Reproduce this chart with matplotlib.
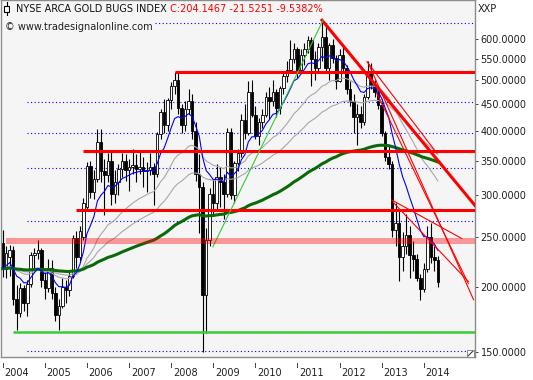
import numpy as np
import pandas as pd
import matplotlib
matplotlib.use('Agg')
import matplotlib.pyplot as plt
import matplotlib.transforms as mtransforms

# monthly candles, Jan 2004 .. May 2014
opens = [243, 217, 228, 236, 190, 178, 199, 186, 203, 230, 233, 236,
         206, 199, 218, 195, 177, 184, 200, 197, 210, 248, 228, 250,
         285, 342, 304, 322, 381, 334, 328, 350, 302, 318, 338, 350,
         336, 340, 344, 338, 340, 334, 336, 340, 330, 393, 435, 410,
         458, 487, 500, 441, 410, 440, 455, 400, 330, 312, 193, 246,
         302, 290, 325, 318, 302, 398, 300, 346, 362, 419, 396, 475,
         428, 390, 415, 428, 464, 455, 475, 441, 483, 510, 523, 550,
         575, 524, 559, 575, 597, 550, 527, 578, 605, 527, 584, 552,
         497, 560, 527, 481, 456, 425, 430, 415, 465, 520, 490, 475,
         448, 396, 355, 345, 258, 265, 228, 240, 252, 230, 226, 208,
         198, 217, 250, 228, 225.67]
highs = [258, 240, 241, 240, 202, 204, 202, 206, 234, 238, 246, 238,
         214, 226, 225, 200, 190, 208, 206, 216, 252, 256, 262, 296,
         348, 350, 336, 402, 402, 352, 362, 366, 336, 345, 362, 360,
         352, 368, 360, 366, 356, 348, 362, 346, 398, 440, 460, 462,
         495, 518, 518, 450, 455, 480, 470, 415, 360, 318, 260, 310,
         321, 345, 340, 330, 405, 405, 350, 368, 430, 450, 497, 500,
         445, 422, 440, 475, 485, 500, 480, 488, 515, 545, 597, 590,
         580, 575, 590, 609, 605, 570, 590, 652, 640, 590, 600, 560,
         575, 580, 535, 497, 470, 450, 445, 470, 543, 540, 500, 480,
         460, 400, 375, 350, 290, 280, 255, 276, 262, 245, 232, 212,
         222, 262, 265, 240, 229]
lows = [209, 208, 210, 185, 165, 175, 180, 176, 200, 218, 226, 200,
        190, 196, 190, 172, 165, 182, 186, 192, 208, 218, 224, 246,
        280, 296, 295, 318, 318, 275, 318, 287, 290, 300, 325, 320,
        306, 330, 318, 330, 312, 305, 328, 287, 326, 385, 395, 400,
        440, 470, 430, 395, 400, 430, 385, 320, 254, 150, 163, 240,
        274, 280, 285, 270, 298, 295, 290, 335, 355, 385, 392, 425,
        385, 375, 405, 424, 420, 445, 425, 430, 470, 495, 518, 540,
        505, 515, 535, 565, 488, 500, 520, 545, 515, 500, 540, 480,
        495, 520, 470, 445, 396, 375, 405, 410, 460, 480, 465, 440,
        390, 350, 338, 250, 240, 205, 215, 232, 208, 215, 205, 189,
        196, 214, 222, 215, 200]
closes = [217, 233, 236, 190, 178, 199, 186, 203, 230, 233, 236, 206,
          199, 218, 195, 177, 184, 200, 197, 210, 248, 228, 256, 290,
          342, 304, 322, 381, 334, 328, 350, 302, 318, 338, 350, 336,
          340, 344, 338, 340, 334, 336, 340, 330, 393, 435, 410, 458,
          487, 500, 441, 410, 440, 455, 400, 330, 312, 193, 246, 302,
          290, 325, 318, 302, 398, 300, 346, 362, 419, 396, 475, 428,
          390, 415, 428, 464, 455, 475, 441, 483, 510, 523, 550, 575,
          524, 559, 575, 597, 550, 527, 578, 605, 527, 584, 552, 497,
          560, 527, 481, 456, 425, 430, 415, 465, 520, 490, 475, 448,
          396, 355, 345, 258, 265, 228, 240, 252, 230, 226, 208, 198,
          217, 250, 228, 225.67, 204.1467]

years = list(range(2004, 2015))
price_ticks = [150, 200, 250, 300, 350, 400, 450, 500, 550, 600]
grid_levels = [645, 454.5, 396, 339, 268, 150.7]

# support / resistance drawn on the chart
red_levels = [(49.0, 519), (22.9, 366), (20.9, 281)]   # (start month, level)
green_level = (3.0, 164)
band = (241.5, 248.5)
# trend lines: (month, value) pairs
thick_red = [(91.0, 652), (134.6, 287)]
green_trend = [(59.9, 239), (91.3, 652)]
thin_red = [
    [(103.8, 543), (123.7, 362)],
    [(104.2, 539), (134.2, 189)],
    [(106.6, 472), (132.7, 203)],
    [(110.9, 294), (130.8, 248)],
    [(111.3, 291), (132.7, 205)],
]

df = pd.DataFrame({'o': opens, 'h': highs, 'l': lows, 'c': closes})
x = np.arange(len(df))
ema_fast = df['c'].ewm(span=10, adjust=False).mean()
ema_mid = df['c'].ewm(span=30, adjust=False).mean()
ema_slow = df['c'].ewm(span=55, adjust=False).mean()
ema_long = df['c'].ewm(span=140, adjust=False).mean()

plt.rcParams['font.family'] = 'DejaVu Sans'
fig = plt.figure(figsize=(5.33, 3.80), dpi=100, facecolor='white')
ax = fig.add_axes([1 / 533, 23 / 380, 474 / 533, 357 / 380])
ax.set_facecolor('#f5f5f5')
ax.set_yscale('log')
ax.set_ylim(146.7, 713)
ax.set_xlim(-0.48, 134.6)
xmax = 134.6

# dotted grid
for lv in grid_levels:
    ax.plot([6.9, xmax], [lv, lv], color='#0000ff', lw=0.8,
            ls=(0, (1, 2.2)), zorder=1)

# candles
up = df['c'] >= df['o']
ax.vlines(x, df['l'], df['h'], color='black', lw=0.8, zorder=2)
ax.bar(x, (df['c'] - df['o']).abs(), bottom=np.minimum(df['o'], df['c']),
       width=0.72, color=np.where(up, 'white', 'black'),
       edgecolor='black', linewidth=0.6, zorder=2)

# averages
ax.plot(x, ema_mid, color='#a8a8a8', lw=0.8, zorder=3)
ax.plot(x, ema_slow, color='#a8a8a8', lw=0.8, zorder=3)
ax.plot(x, ema_long, color='#0a6a0a', lw=2.2, zorder=3)
ax.plot(x, ema_fast, color='#0000ff', lw=0.8, zorder=3)

# levels
for start, lv in red_levels:
    ax.plot([start, xmax], [lv, lv], color='#ff0000', lw=2.2, zorder=4,
            solid_capstyle='butt')
ax.plot([green_level[0], xmax], [green_level[1]] * 2, color='#33cc33',
        lw=1.8, zorder=4, solid_capstyle='butt')
ax.fill_between([1.0, xmax], band[0], band[1], color='#ff0000',
                alpha=0.38, lw=0, zorder=5)

# trend lines
tx, ty = zip(*thick_red)
ax.plot(tx, ty, color='#ff0000', lw=2.2, zorder=4)
gx, gy = zip(*green_trend)
ax.plot(gx, gy, color='#33cc33', lw=0.8, zorder=4)
for seg in thin_red:
    sx, sy = zip(*seg)
    ax.plot(sx, sy, color='#ff0000', lw=0.8, zorder=4)

# axes styling
for sp in ax.spines.values():
    sp.set_color('#8c8c8c')
    sp.set_linewidth(1.0)
ax.yaxis.tick_right()
ax.set_yticks(price_ticks)
ax.set_yticklabels(['%.4f' % v for v in price_ticks])
ax.yaxis.set_minor_locator(matplotlib.ticker.NullLocator())
ax.tick_params(axis='y', direction='out', length=2.5, width=0.7,
               color='#404040', labelsize=7, pad=1.5, labelcolor='#202020')
ax.set_xticks([])

# year ticks under the frame
trans = mtransforms.blended_transform_factory(ax.transData, ax.transAxes)
for i, yr in enumerate(years):
    xi = i * 12
    ax.plot([xi, xi], [-0.017, -0.028], color='#404040', lw=0.7,
            transform=trans, clip_on=False)
    ax.text(xi + 0.5, -0.03, str(yr), transform=trans, fontsize=7,
            ha='left', va='top', color='#202020')

# header texts
t1 = fig.text(16 / 533, 1 - 9.5 / 380, 'NYSE ARCA GOLD BUGS INDEX',
              fontsize=7, color='#101010', va='center', ha='left')
ax.annotate(' C:204.1467 -21.5251 -9.5382%', xy=(1, 0), xycoords=t1,
            fontsize=7, color='#ff0000', va='bottom', ha='left',
            annotation_clip=False)
fig.text(5 / 533, 1 - 26.5 / 380, '\u00a9 www.tradesignalonline.com',
         fontsize=7, color='#202020', va='center', ha='left', zorder=6,
         bbox=dict(boxstyle='square,pad=0.15', fc='#f5f5f5', ec='none'))
fig.text(478 / 533, 1 - 9.5 / 380, 'XXP', fontsize=7, color='#202020',
         va='center', ha='left')

# little candle icon before the title
icon = fig.add_axes([3 / 533, 1 - 16 / 380, 7 / 533, 14 / 380])
icon.axis('off')
icon.set_xlim(0, 1)
icon.set_ylim(0, 1)
icon.plot([0.5, 0.5], [0.0, 1.0], color='black', lw=0.8)
icon.add_patch(plt.Rectangle((0.15, 0.3), 0.7, 0.4, fc='white',
                             ec='black', lw=0.8, zorder=3))

# resize grip in the corner of the chart
grip = fig.add_axes([467 / 533, 23 / 380, 7 / 533, 7 / 380])
grip.set_xlim(0, 1)
grip.set_ylim(0, 1)
grip.set_xticks([])
grip.set_yticks([])
grip.set_facecolor('white')
for sp in grip.spines.values():
    sp.set_color('#8c8c8c')
    sp.set_linewidth(0.7)
grip.plot([0.15, 0.85], [0.15, 0.85], color='#404040', lw=0.8)

fig.savefig('out.png', dpi=100, facecolor='white')
